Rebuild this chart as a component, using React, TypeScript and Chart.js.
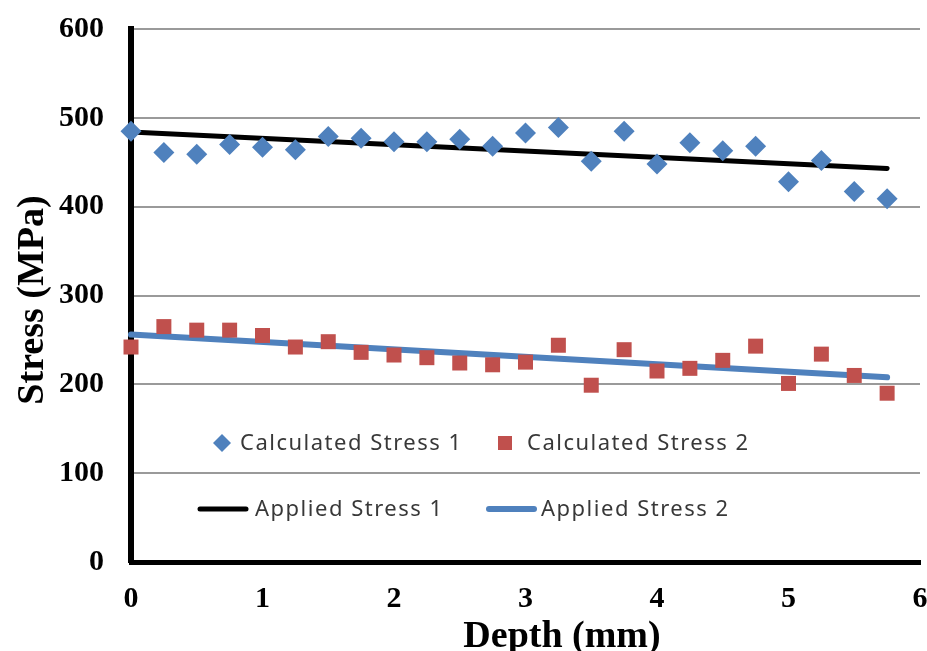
import React, { useEffect, useRef } from "react";
import { Chart, registerables } from "chart.js";

Chart.register(...registerables);

const depth = [0, 0.25, 0.5, 0.75, 1, 1.25, 1.5, 1.75, 2, 2.25, 2.5, 2.75, 3, 3.25, 3.5, 3.75, 4, 4.25, 4.5, 4.75, 5, 5.25, 5.5, 5.75];
const calculatedStress1 = [485, 461, 459, 470, 467, 464, 479, 477, 473, 473, 476, 468, 483, 489, 451, 485, 448, 472, 463, 468, 428, 452, 417, 409];
const calculatedStress2 = [242, 265, 261, 261, 255, 242, 248, 236, 233, 230, 224, 222, 225, 244, 199, 239, 215, 218, 227, 243, 201, 234, 210, 190];
const appliedDepth = [0, 5.75];
const appliedStress1 = [484, 443];
const appliedStress2 = [256, 208];
const seriesNames = ["Calculated Stress 1", "Calculated Stress 2", "Applied Stress 1", "Applied Stress 2"];
const xTitle = "Depth (mm)";
const yTitle = "Stress (MPa)";

const BLUE = "#4F81BD";
const RED = "#C0504D";
const BLACK = "#000000";

const overlayPlugin = {
  id: "overlay",
  afterDraw(chart: any) {
    const ctx = chart.ctx as CanvasRenderingContext2D;
    ctx.save();
    // axis titles
    ctx.fillStyle = "#000";
    ctx.font = 'bold 38px "Liberation Serif"';
    ctx.textAlign = "center";
    ctx.textBaseline = "alphabetic";
    ctx.fillText(xTitle, 562, 647);
    ctx.save();
    ctx.translate(43, 300);
    ctx.rotate(-Math.PI / 2);
    ctx.fillText(yTitle, 0, 0);
    ctx.restore();

    // legend
    ctx.font = '22px "Noto Sans"';
    (ctx as any).letterSpacing = "1.5px";
    ctx.textAlign = "left";
    ctx.textBaseline = "middle";
    const r1 = 443;
    const r2 = 509;
    // diamond
    ctx.fillStyle = BLUE;
    ctx.beginPath();
    ctx.moveTo(222 - 9, r1);
    ctx.lineTo(222, r1 - 9);
    ctx.lineTo(222 + 9, r1);
    ctx.lineTo(222, r1 + 9);
    ctx.closePath();
    ctx.fill();
    // square
    ctx.fillStyle = RED;
    ctx.fillRect(505 - 7, r1 - 7, 14, 14);
    // lines
    ctx.lineCap = "round";
    ctx.strokeStyle = BLACK;
    ctx.lineWidth = 5;
    ctx.beginPath();
    ctx.moveTo(200, r2);
    ctx.lineTo(246, r2);
    ctx.stroke();
    ctx.strokeStyle = BLUE;
    ctx.lineWidth = 6;
    ctx.beginPath();
    ctx.moveTo(489, r2);
    ctx.lineTo(534, r2);
    ctx.stroke();
    // texts
    ctx.fillStyle = "#383838";
    ctx.fillText(seriesNames[0], 240, r1 + 1);
    ctx.fillText(seriesNames[1], 527, r1 + 1);
    ctx.fillText(seriesNames[2], 255, r2 + 1);
    ctx.fillText(seriesNames[3], 541, r2 + 1);
    ctx.restore();
  },
};

export default function App() {
  const ref = useRef<HTMLCanvasElement | null>(null);

  useEffect(() => {
    document.body.style.margin = "0";
    const canvas = ref.current;
    if (!canvas) return;
    const tickFont = { family: '"Liberation Serif"', size: 30, weight: "bold" as const };
    const chart = new Chart(canvas, {
      type: "scatter",
      data: {
        datasets: [
          {
            label: seriesNames[0],
            data: depth.map((d, i) => ({ x: d, y: calculatedStress1[i] })),
            pointStyle: "rectRot",
            pointRadius: 10.5,
            backgroundColor: BLUE,
            borderColor: BLUE,
            borderWidth: 0,
            showLine: false,
            clip: false as any,
            order: 0,
          },
          {
            label: seriesNames[1],
            data: depth.map((d, i) => ({ x: d, y: calculatedStress2[i] })),
            pointStyle: "rect",
            pointRadius: 10.6,
            backgroundColor: RED,
            borderColor: RED,
            borderWidth: 0,
            showLine: false,
            clip: false as any,
            order: 0,
          },
          {
            label: seriesNames[2],
            data: appliedDepth.map((d, i) => ({ x: d, y: appliedStress1[i] })),
            showLine: true,
            borderColor: BLACK,
            borderWidth: 5,
            borderCapStyle: "round",
            pointRadius: 0,
            clip: false as any,
            order: 1,
          },
          {
            label: seriesNames[3],
            data: appliedDepth.map((d, i) => ({ x: d, y: appliedStress2[i] })),
            showLine: true,
            borderColor: BLUE,
            borderWidth: 6,
            borderCapStyle: "round",
            pointRadius: 0,
            clip: false as any,
            order: 1,
          },
        ],
      },
      options: {
        animation: false,
        responsive: false,
        devicePixelRatio: 1,
        layout: { autoPadding: false, padding: { top: 29, right: 7, left: 0, bottom: 0 } },
        plugins: { legend: { display: false }, tooltip: { enabled: false } },
        scales: {
          x: {
            type: "linear",
            min: 0,
            max: 6,
            afterFit: (s: any) => {
              s.height = 89;
              s.paddingLeft = 0;
              s.paddingRight = 0;
            },
            ticks: { stepSize: 1, color: "#000", font: tickFont, padding: 19, maxRotation: 0 },
            grid: { display: false, drawTicks: false },
            border: { display: true, color: "#000", width: 5 },
          },
          y: {
            type: "linear",
            min: 0,
            max: 600,
            afterFit: (s: any) => {
              s.width = 131;
              s.paddingTop = 0;
              s.paddingBottom = 0;
            },
            ticks: { stepSize: 100, color: "#000", font: tickFont, padding: 27 },
            grid: { color: "#9a9a9a", lineWidth: 2, drawTicks: false },
            border: { display: true, color: "#000", width: 6 },
          },
        },
      },
      plugins: [overlayPlugin],
    });
    return () => chart.destroy();
  }, []);

  return (
    <div style={{ position: "absolute", left: 0, top: 0, width: 927, height: 651, background: "#fff" }}>
      <canvas ref={ref} width={927} height={651} />
    </div>
  );
}
